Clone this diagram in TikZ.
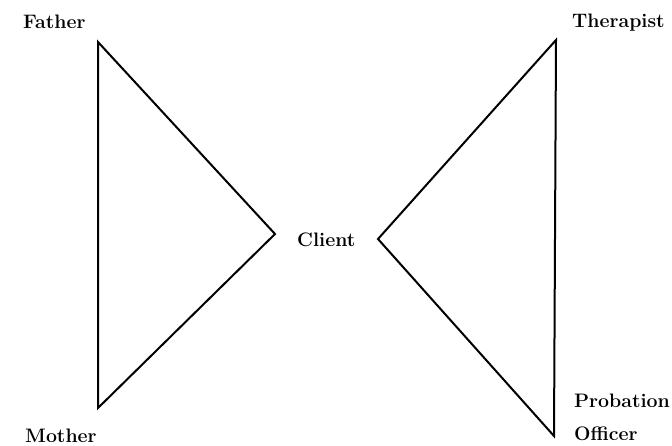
\documentclass[tikz,border=0pt]{standalone}
\usepackage{fontspec}
\usetikzlibrary{positioning}
\begin{document}
\begin{tikzpicture}[x=1pt, y=-1pt,
    edge/.style={line width=2pt, line join=miter},
    role/.style={font=\fontsize{19.5}{23}\selectfont\bfseries, inner sep=0pt, anchor=base west}]
  \useasboundingbox (0,0) rectangle (672,446);

  % Family triangle
  \coordinate (fatherTip) at (98,42);
  \coordinate (motherTip) at (98,408);
  \coordinate (clientLeft) at (275,234);
  \draw[edge] (fatherTip) -- (clientLeft) -- (motherTip) -- cycle;

  % Helper triangle
  \coordinate (therapistTip) at (556,40);
  \coordinate (officerTip) at (554,436);
  \coordinate (clientRight) at (378,239);
  \draw[edge] (therapistTip) -- (clientRight) -- (officerTip) -- cycle;

  % Labels
  \node[role] (father) at (23,29) {Father};
  \node[role] (mother) at (25,442) {Mother};
  \node[role] (client) at (297,247) {Client};
  \node[role] (therapist) at (572,28) {Therapist};
  \node[role] (probation) at (574,407) {Probation};
  \node[role] (officer) at (574,440) {Officer};
\end{tikzpicture}
\end{document}
